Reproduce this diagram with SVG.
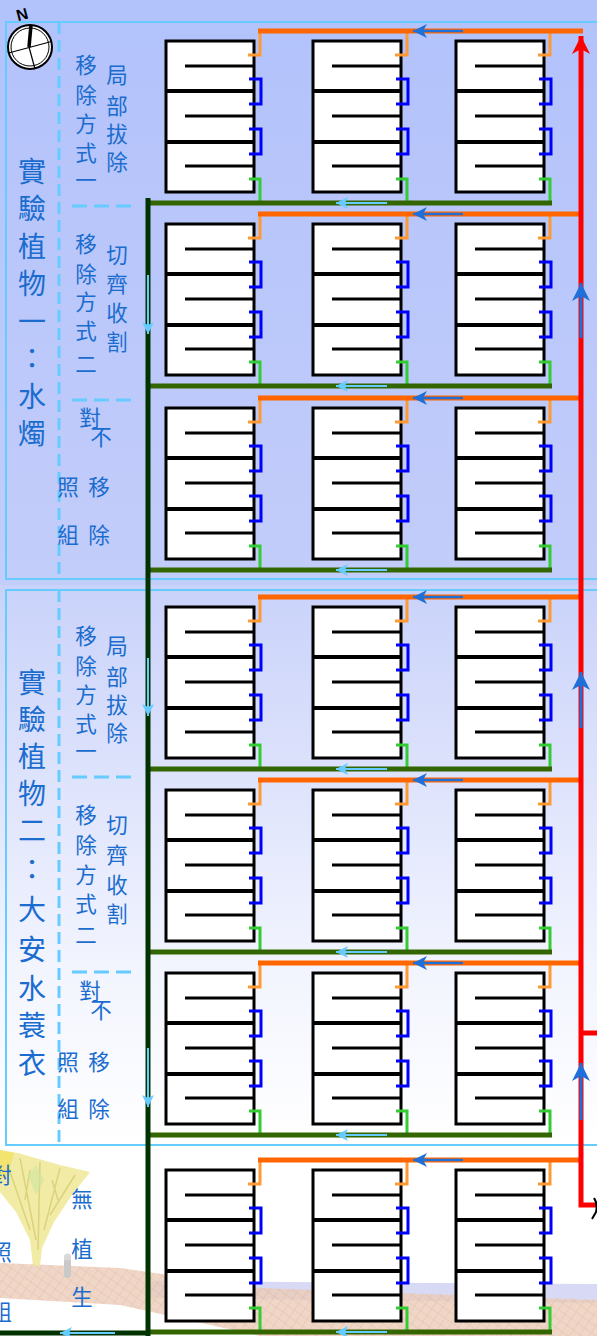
<svg xmlns="http://www.w3.org/2000/svg" xmlns:xlink="http://www.w3.org/1999/xlink" width="597" height="1336" viewBox="0 0 597 1336">
  <style>
    .lbl { font-family: "Noto Sans CJK TC", "Noto Sans CJK SC", sans-serif; fill: #1a6ccf; text-anchor: middle; dominant-baseline: central; }
    .big { font-size: 28px; }
    .sub { font-size: 21.5px; }
    .sect { fill: none; stroke: #66ccff; stroke-width: 2; }
    .dashv { stroke: #66ccff; stroke-width: 3; stroke-dasharray: 12 6; fill: none; }
    .dashh { stroke: #66ccff; stroke-width: 3; stroke-dasharray: 15 7; fill: none; }
    .supply { stroke: #ff6600; stroke-width: 5; fill: none; }
    .drain { stroke: #336600; stroke-width: 5; fill: none; }
    .trunk { stroke: #003300; stroke-width: 5; fill: none; }
    .feed { stroke: #ff0000; stroke-width: 5; fill: none; }
    .flowB { stroke: #1e6fd9; stroke-width: 2.5; fill: none; marker-end: url(#headB); }
    .flowL { stroke: #66ccff; stroke-width: 2; fill: none; marker-end: url(#headL); }
    .flowR { stroke: #1e6fd9; stroke-width: 3; fill: none; marker-end: url(#headR); }
    .tankbox { fill: #ffffff; stroke: #000000; stroke-width: 3; }
    .wall { stroke: #000000; stroke-width: 4; }
    .baffle { stroke: #000000; stroke-width: 3; }
    .inlet { stroke: #ff9933; stroke-width: 3; fill: none; }
    .link { stroke: #0000ff; stroke-width: 3; fill: none; }
    .outlet { stroke: #33cc33; stroke-width: 3; fill: none; }
  </style>
  <defs>
    <linearGradient id="bgTop" x1="0" y1="0" x2="0" y2="1">
      <stop offset="0" stop-color="#b2c2fb"/>
      <stop offset="1" stop-color="#c3cdfa"/>
    </linearGradient>
    <linearGradient id="bgMid" x1="0" y1="0" x2="0" y2="1">
      <stop offset="0" stop-color="#c9d2fa"/>
      <stop offset="0.7" stop-color="#f3f5fe"/>
      <stop offset="1" stop-color="#ffffff"/>
    </linearGradient>
    <pattern id="hatch" width="8" height="8" patternUnits="userSpaceOnUse" patternTransform="rotate(35)">
      <rect width="8" height="8" fill="#ecccb8"/>
      <path d="M0,0 H8 M0,0 V8" stroke="#dcb09a" stroke-width="1"/>
    </pattern>
    <marker id="headB" markerUnits="userSpaceOnUse" markerWidth="14" markerHeight="16" viewBox="0 -8 14 16" refX="14" refY="0" orient="auto">
      <path d="M14,0 L0,-7 L4,0 L0,7 Z" fill="#1e6fd9"/>
    </marker>
    <marker id="headL" markerUnits="userSpaceOnUse" markerWidth="12" markerHeight="14" viewBox="0 -7 12 14" refX="12" refY="0" orient="auto">
      <path d="M12,0 L0,-6 L3,0 L0,6 Z" fill="#66ccff"/>
    </marker>
    <marker id="headR" markerUnits="userSpaceOnUse" markerWidth="18" markerHeight="20" viewBox="0 -10 18 20" refX="18" refY="0" orient="auto">
      <path d="M18,0 L0,-9 L5,0 L0,9 Z" fill="#1e6fd9"/>
    </marker>
    <marker id="headRed" markerUnits="userSpaceOnUse" markerWidth="20" markerHeight="20" viewBox="0 -10 20 20" refX="18" refY="0" orient="auto">
      <path d="M18,0 L0,-9 L5,0 L0,9 Z" fill="#ff0000"/>
    </marker>
    <!-- one wetland tank: three cells with baffles -->
    <symbol id="tank" overflow="visible">
      <rect class="tankbox" x="0" y="0" width="88" height="151"/>
      <line class="wall" x1="0" y1="50" x2="88" y2="50"/>
      <line class="wall" x1="0" y1="101" x2="88" y2="101"/>
      <line class="baffle" x1="19" y1="25" x2="88" y2="25"/>
      <line class="baffle" x1="19" y1="75" x2="88" y2="75"/>
      <line class="baffle" x1="19" y1="125" x2="88" y2="125"/>
    </symbol>
    <!-- fittings on the right side of a tank, origin = (tank right edge, supply pipe level) -->
    <symbol id="fit" overflow="visible">
      <path class="inlet" d="M6,0 V24 H-6"/>
      <path class="link" d="M-5,48 H7 V73 H-5"/>
      <path class="link" d="M-5,98 H7 V123 H-5"/>
      <path class="outlet" d="M-5,148 H6 V172"/>
    </symbol>
  </defs>

  <!-- backgrounds -->
  <g id="background">
    <rect x="0" y="0" width="597" height="585" fill="url(#bgTop)"/>
    <rect x="0" y="585" width="597" height="560" fill="url(#bgMid)"/>
    <rect x="0" y="1145" width="597" height="191" fill="#ffffff"/>
  </g>

  <!-- scenery at the bottom: ground, tree, small figure -->
  <g id="scenery">
    <path d="M150,1281 L597,1284 L597,1303 L150,1298 Z" fill="#d8daf5"/>
    <path d="M0,1263 L120,1268 L260,1288 L597,1300 L597,1336 L260,1336 L120,1305 L0,1298 Z" fill="url(#hatch)" opacity="0.8"/>
    <path d="M0,1150 L18,1153 L60,1165 L90,1172 L72,1195 L54,1222 L42,1248 L40,1266 L33,1266 L30,1240 L16,1212 L0,1192 Z" fill="#efe896" opacity="0.85"/>
    <path d="M6,1160 L30,1230 M20,1158 L36,1240 M40,1162 L38,1250 M60,1168 L44,1230 M75,1175 L50,1215 M30,1170 L25,1200 M52,1180 L58,1200" stroke="#d6cc74" stroke-width="1.5" fill="none" opacity="0.8"/>
    <path d="M0,1150 L14,1153 L8,1175 L0,1180 Z" fill="#f3e36a" opacity="0.9"/>
    <path d="M28,1175 L36,1165 L44,1180 L36,1195 Z" fill="#cfe6a0" opacity="0.6"/>
    <rect x="64" y="1258" width="7" height="20" rx="3" fill="#c9c9c9"/>
    <circle cx="67.5" cy="1257" r="3.5" fill="#d8d8d8"/>
  </g>

  <!-- section frames and dividers -->
  <g id="frames">
    <path class="sect" d="M600,22 H6 V579 H600"/>
    <path class="sect" d="M600,590 H6 V1145 H600"/>
    <line class="dashv" x1="59" y1="22" x2="59" y2="579"/>
    <line class="dashv" x1="59" y1="590" x2="59" y2="1145"/>
    <line class="dashh" x1="72" y1="206" x2="134" y2="206"/>
    <line class="dashh" x1="72" y1="400" x2="134" y2="400"/>
    <line class="dashh" x1="72" y1="777" x2="134" y2="777"/>
    <line class="dashh" x1="72" y1="972" x2="134" y2="972"/>
  </g>

  <!-- compass -->
  <g id="compass">
    <circle cx="30" cy="47" r="22" fill="#ffffff" stroke="#000000" stroke-width="2"/>
    <circle cx="30" cy="47" r="19" fill="none" stroke="#000000" stroke-width="1"/>
    <line x1="8.5" y1="53" x2="51.5" y2="41.5" stroke="#000000" stroke-width="1.2"/>
    <line x1="29" y1="47" x2="35" y2="69" stroke="#000000" stroke-width="1.2"/>
    <line x1="31" y1="25" x2="29" y2="47" stroke="#000000" stroke-width="3.5"/>
    <text x="22" y="20" font-family="Liberation Sans, sans-serif" font-weight="bold" font-size="16" text-anchor="middle" transform="rotate(-15 22 14)">N</text>
  </g>

  <!-- labels -->
  <g id="label-plant1" class="lbl big">
    <text x="32" y="170">實</text><text x="32" y="207">驗</text><text x="32" y="245">植</text><text x="32" y="282">物</text>
    <text x="32" y="320">一</text><text x="32" y="357">：</text><text x="32" y="395">水</text><text x="32" y="432">燭</text>
  </g>
  <g id="label-plant2" class="lbl big">
    <text x="32" y="681">實</text><text x="32" y="718">驗</text><text x="32" y="755">植</text><text x="32" y="792">物</text>
    <text x="32" y="829">二</text><text x="32" y="868">：</text><text x="32" y="908">大</text><text x="32" y="948">安</text>
    <text x="32" y="987">水</text><text x="32" y="1024">蓑</text><text x="32" y="1062">衣</text>
  </g>
  <g id="label-p1-method1" class="lbl sub">
    <text x="86" y="63">移</text><text x="86" y="93">除</text><text x="86" y="122">方</text><text x="86" y="151">式</text><text x="86" y="178">一</text>
    <text x="117" y="73">局</text><text x="117" y="104">部</text><text x="117" y="132">拔</text><text x="117" y="160">除</text>
  </g>
  <g id="label-p1-method2" class="lbl sub">
    <text x="86" y="242">移</text><text x="86" y="272">除</text><text x="86" y="300">方</text><text x="86" y="329">式</text><text x="86" y="362">二</text>
    <text x="117" y="253">切</text><text x="117" y="282">齊</text><text x="117" y="311">收</text><text x="117" y="340">割</text>
  </g>
  <g id="label-p1-control" class="lbl sub">
    <text x="90" y="416">對</text><text x="101" y="435">不</text>
    <text x="68" y="485">照</text><text x="99" y="485">移</text>
    <text x="68" y="533">組</text><text x="99" y="533">除</text>
  </g>
  <g id="label-p2-method1" class="lbl sub">
    <text x="86" y="634">移</text><text x="86" y="664">除</text><text x="86" y="693">方</text><text x="86" y="722">式</text><text x="86" y="749">一</text>
    <text x="117" y="644">局</text><text x="117" y="675">部</text><text x="117" y="703">拔</text><text x="117" y="731">除</text>
  </g>
  <g id="label-p2-method2" class="lbl sub">
    <text x="86" y="813">移</text><text x="86" y="843">除</text><text x="86" y="873">方</text><text x="86" y="902">式</text><text x="86" y="933">二</text>
    <text x="117" y="823">切</text><text x="117" y="853">齊</text><text x="117" y="883">收</text><text x="117" y="912">割</text>
  </g>
  <g id="label-p2-control" class="lbl sub">
    <text x="90" y="989">對</text><text x="101" y="1008">不</text>
    <text x="68" y="1060">照</text><text x="99" y="1060">移</text>
    <text x="68" y="1107">組</text><text x="99" y="1107">除</text>
  </g>
  <g id="label-bare" class="lbl sub">
    <text x="82" y="1197">無</text><text x="82" y="1247">植</text><text x="82" y="1295">生</text>
    <text x="1" y="1173">對</text><text x="1" y="1250">照</text><text x="1" y="1310">組</text>
  </g>

  <!-- tanks: 7 rows x 3 columns -->
  <g id="tanks">
    <g id="tank-r1c1"><use href="#tank" x="166" y="41"/></g>
    <g id="tank-r1c2"><use href="#tank" x="313" y="41"/></g>
    <g id="tank-r1c3"><use href="#tank" x="456" y="41"/></g>
    <g id="tank-r2c1"><use href="#tank" x="166" y="224"/></g>
    <g id="tank-r2c2"><use href="#tank" x="313" y="224"/></g>
    <g id="tank-r2c3"><use href="#tank" x="456" y="224"/></g>
    <g id="tank-r3c1"><use href="#tank" x="166" y="408"/></g>
    <g id="tank-r3c2"><use href="#tank" x="313" y="408"/></g>
    <g id="tank-r3c3"><use href="#tank" x="456" y="408"/></g>
    <g id="tank-r4c1"><use href="#tank" x="166" y="607"/></g>
    <g id="tank-r4c2"><use href="#tank" x="313" y="607"/></g>
    <g id="tank-r4c3"><use href="#tank" x="456" y="607"/></g>
    <g id="tank-r5c1"><use href="#tank" x="166" y="790"/></g>
    <g id="tank-r5c2"><use href="#tank" x="313" y="790"/></g>
    <g id="tank-r5c3"><use href="#tank" x="456" y="790"/></g>
    <g id="tank-r6c1"><use href="#tank" x="166" y="973"/></g>
    <g id="tank-r6c2"><use href="#tank" x="313" y="973"/></g>
    <g id="tank-r6c3"><use href="#tank" x="456" y="973"/></g>
    <g id="tank-r7c1"><use href="#tank" x="166" y="1170"/></g>
    <g id="tank-r7c2"><use href="#tank" x="313" y="1170"/></g>
    <g id="tank-r7c3"><use href="#tank" x="456" y="1170"/></g>
  </g>

  <!-- piping -->
  <g id="connectors">
    <!-- tank fittings -->
    <use href="#fit" x="254" y="31"/><use href="#fit" x="401" y="31"/><use href="#fit" x="544" y="31"/>
    <use href="#fit" x="254" y="214"/><use href="#fit" x="401" y="214"/><use href="#fit" x="544" y="214"/>
    <use href="#fit" x="254" y="398"/><use href="#fit" x="401" y="398"/><use href="#fit" x="544" y="398"/>
    <use href="#fit" x="254" y="597"/><use href="#fit" x="401" y="597"/><use href="#fit" x="544" y="597"/>
    <use href="#fit" x="254" y="780"/><use href="#fit" x="401" y="780"/><use href="#fit" x="544" y="780"/>
    <use href="#fit" x="254" y="963"/><use href="#fit" x="401" y="963"/><use href="#fit" x="544" y="963"/>
    <use href="#fit" x="254" y="1160"/><use href="#fit" x="401" y="1160"/><use href="#fit" x="544" y="1160"/>

    <!-- supply headers -->
    <path class="supply" d="M258,31 H583 M258,214 H581 M258,398 H581 M258,597 H581 M258,780 H581 M258,963 H581 M258,1160 H581"/>
    <!-- drain headers -->
    <path class="drain" d="M148,203 H552 M148,386 H552 M148,570 H552 M148,769 H552 M148,952 H552 M148,1135 H552 M148,1332 H552"/>
    <!-- collector trunk -->
    <path class="trunk" d="M148,198 V1336 M0,1333 H150"/>
    <!-- feed riser -->
    <path class="feed" d="M581,1033 H597"/>
    <path class="feed" d="M597,1205 H581 V36" marker-end="url(#headRed)"/>
    <path d="M594,1198 Q598,1204 596,1212 L592,1219" stroke="#000000" stroke-width="2" fill="none"/>

    <!-- flow direction: supply -->
    <line class="flowB" x1="463" y1="31" x2="413" y2="31"/>
    <line class="flowB" x1="463" y1="214" x2="413" y2="214"/>
    <line class="flowB" x1="463" y1="398" x2="413" y2="398"/>
    <line class="flowB" x1="463" y1="597" x2="413" y2="597"/>
    <line class="flowB" x1="463" y1="780" x2="413" y2="780"/>
    <line class="flowB" x1="463" y1="963" x2="413" y2="963"/>
    <line class="flowB" x1="463" y1="1160" x2="413" y2="1160"/>
    <!-- flow direction: drains -->
    <line class="flowL" x1="387" y1="203" x2="336" y2="203"/>
    <line class="flowL" x1="387" y1="386" x2="336" y2="386"/>
    <line class="flowL" x1="387" y1="570" x2="336" y2="570"/>
    <line class="flowL" x1="387" y1="769" x2="336" y2="769"/>
    <line class="flowL" x1="387" y1="952" x2="336" y2="952"/>
    <line class="flowL" x1="387" y1="1135" x2="336" y2="1135"/>
    <line class="flowL" x1="387" y1="1332" x2="336" y2="1332"/>
    <line class="flowL" x1="115" y1="1333" x2="60" y2="1333"/>
    <!-- flow direction: trunk -->
    <line class="flowL" x1="148" y1="275" x2="148" y2="334"/>
    <line class="flowL" x1="148" y1="658" x2="148" y2="716"/>
    <line class="flowL" x1="148" y1="1048" x2="148" y2="1107"/>
    <!-- flow direction: riser -->
    <line class="flowR" x1="581" y1="338" x2="581" y2="283"/>
    <line class="flowR" x1="581" y1="728" x2="581" y2="672"/>
    <line class="flowR" x1="581" y1="1120" x2="581" y2="1063"/>
  </g>
</svg>
